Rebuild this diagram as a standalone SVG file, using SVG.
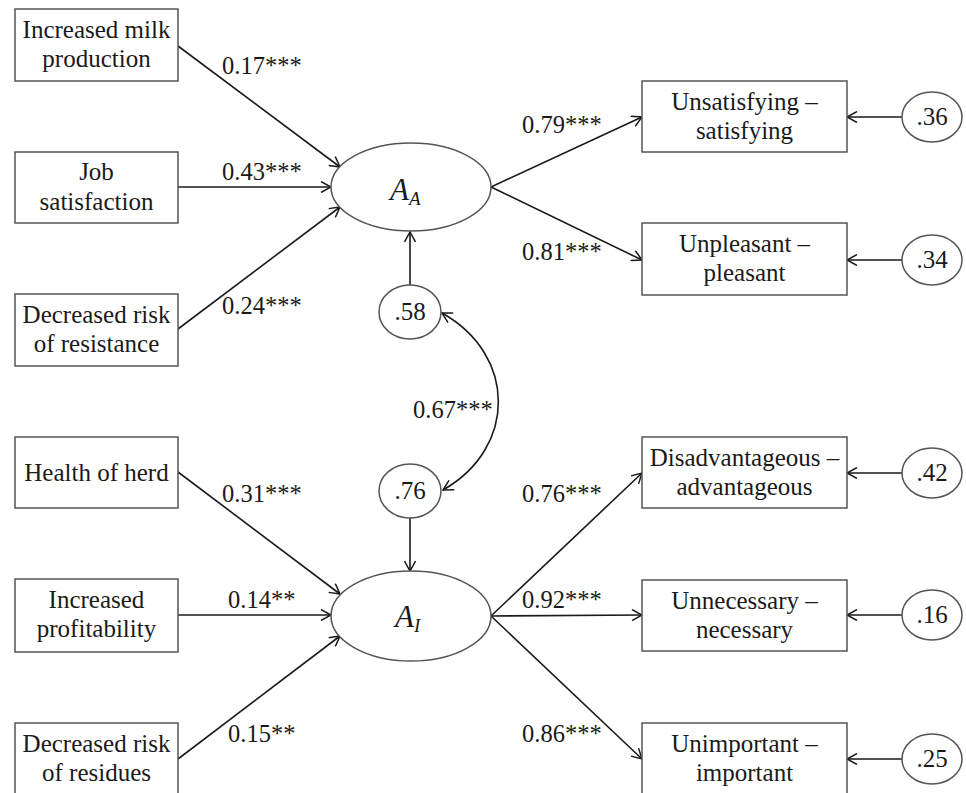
<svg xmlns="http://www.w3.org/2000/svg" width="966" height="793" viewBox="0 0 966 793">
<style>
.box{fill:#fff;stroke:#555;stroke-width:1.5}
.ell{fill:#fff;stroke:#555;stroke-width:1.5}
.t{font-size:25px;fill:#1a1a1a;text-anchor:middle}
.lbl{font-size:24.5px;fill:#1a1a1a}
.lat{font-size:31px;font-style:italic;fill:#1a1a1a}
.sub{font-size:19px}
.e{fill:none;stroke:#1a1a1a;stroke-width:1.6;marker-end:url(#ah)}
</style>
<defs>
<marker id="ah" viewBox="0 0 12 12" refX="11" refY="6" markerWidth="12" markerHeight="12" markerUnits="userSpaceOnUse" orient="auto-start-reverse">
<path d="M1,0.5 L11,6 L1,11.5" fill="none" stroke="#1a1a1a" stroke-width="1.5"/>
</marker>
</defs>
<rect width="966" height="793" fill="#fff"/>
<g font-family="Liberation Serif, Tinos, DejaVu Serif, serif">
<g id="connectors">
<line class="e" x1="178" y1="46" x2="340" y2="167"/>
<line class="e" x1="178" y1="187" x2="331" y2="187"/>
<line class="e" x1="178" y1="329" x2="340" y2="207"/>
<line class="e" x1="410" y1="285" x2="410" y2="232"/>
<line class="e" x1="491" y1="187" x2="642" y2="117"/>
<line class="e" x1="491" y1="187" x2="642" y2="260"/>
<line class="e" x1="902" y1="117" x2="847" y2="117"/>
<line class="e" x1="902" y1="260" x2="847" y2="260"/>
<path class="e" d="M442,313 C517,355 517,448 443,490" style="marker-start:url(#ah)"/>
<line class="e" x1="410" y1="518" x2="410" y2="571"/>
<line class="e" x1="178" y1="472" x2="340" y2="594"/>
<line class="e" x1="178" y1="615" x2="331" y2="615"/>
<line class="e" x1="178" y1="759" x2="340" y2="636"/>
<line class="e" x1="491" y1="616" x2="642" y2="473"/>
<line class="e" x1="491" y1="616" x2="642" y2="615"/>
<line class="e" x1="491" y1="616" x2="642" y2="759"/>
<line class="e" x1="902" y1="473" x2="847" y2="473"/>
<line class="e" x1="902" y1="615" x2="847" y2="615"/>
<line class="e" x1="902" y1="759" x2="847" y2="759"/>
<text class="lbl" x="222" y="74">0.17***</text>
<text class="lbl" x="222" y="180">0.43***</text>
<text class="lbl" x="222" y="314">0.24***</text>
<text class="lbl" x="522" y="133">0.79***</text>
<text class="lbl" x="522" y="260">0.81***</text>
<text class="lbl" x="413" y="418">0.67***</text>
<text class="lbl" x="222" y="502">0.31***</text>
<text class="lbl" x="228" y="608">0.14**</text>
<text class="lbl" x="228" y="742">0.15**</text>
<text class="lbl" x="522" y="502">0.76***</text>
<text class="lbl" x="522" y="608">0.92***</text>
<text class="lbl" x="522" y="742">0.86***</text>
</g>
<g id="n_milk"><rect class="box" x="15" y="9" width="163" height="72"/><text class="t" x="96.5" y="38">Increased milk</text><text class="t" x="96.5" y="67">production</text></g>
<g id="n_job"><rect class="box" x="15" y="152" width="163" height="71"/><text class="t" x="96.5" y="180">Job</text><text class="t" x="96.5" y="210">satisfaction</text></g>
<g id="n_resist"><rect class="box" x="15" y="294" width="163" height="72"/><text class="t" x="96.5" y="323">Decreased risk</text><text class="t" x="96.5" y="352">of resistance</text></g>
<g id="n_health"><rect class="box" x="15" y="437" width="163" height="71"/><text class="t" x="96.5" y="481">Health of herd</text></g>
<g id="n_profit"><rect class="box" x="15" y="579" width="163" height="73"/><text class="t" x="96.5" y="608">Increased</text><text class="t" x="96.5" y="637">profitability</text></g>
<g id="n_resid"><rect class="box" x="15" y="723" width="163" height="73"/><text class="t" x="96.5" y="752">Decreased risk</text><text class="t" x="96.5" y="781">of residues</text></g>
<g id="n_AA"><ellipse class="ell" cx="411" cy="187" rx="80" ry="44"/><text class="lat" x="390" y="200">A<tspan class="sub" dy="5">A</tspan></text></g>
<g id="n_AI"><ellipse class="ell" cx="411" cy="616" rx="80" ry="45"/><text class="lat" x="395" y="627">A<tspan class="sub" dy="5">I</tspan></text></g>
<g id="n_e58"><ellipse class="ell" cx="410" cy="312" rx="31" ry="27"/><text class="t" x="410" y="320">.58</text></g>
<g id="n_e76"><ellipse class="ell" cx="410" cy="491" rx="31" ry="27"/><text class="t" x="410" y="499">.76</text></g>
<g id="n_sat"><rect class="box" x="642" y="81" width="205" height="71"/><text class="t" x="744.5" y="110">Unsatisfying –</text><text class="t" x="744.5" y="139">satisfying</text></g>
<g id="n_pleas"><rect class="box" x="642" y="223" width="205" height="72"/><text class="t" x="744.5" y="252">Unpleasant –</text><text class="t" x="744.5" y="281">pleasant</text></g>
<g id="n_adv"><rect class="box" x="642" y="437" width="205" height="71"/><text class="t" x="744.5" y="466">Disadvantageous –</text><text class="t" x="744.5" y="495">advantageous</text></g>
<g id="n_nec"><rect class="box" x="642" y="580" width="205" height="71"/><text class="t" x="744.5" y="609">Unnecessary –</text><text class="t" x="744.5" y="638">necessary</text></g>
<g id="n_imp"><rect class="box" x="642" y="723" width="205" height="73"/><text class="t" x="744.5" y="752">Unimportant –</text><text class="t" x="744.5" y="781">important</text></g>
<g id="n_e36"><ellipse class="ell" cx="932" cy="117" rx="30" ry="25"/><text class="t" x="932" y="125">.36</text></g>
<g id="n_e34"><ellipse class="ell" cx="932" cy="260" rx="30" ry="25"/><text class="t" x="932" y="268">.34</text></g>
<g id="n_e42"><ellipse class="ell" cx="932" cy="473" rx="30" ry="25"/><text class="t" x="932" y="481">.42</text></g>
<g id="n_e16"><ellipse class="ell" cx="932" cy="615" rx="30" ry="25"/><text class="t" x="932" y="623">.16</text></g>
<g id="n_e25"><ellipse class="ell" cx="932" cy="759" rx="30" ry="25"/><text class="t" x="932" y="767">.25</text></g>
</g>
</svg>
